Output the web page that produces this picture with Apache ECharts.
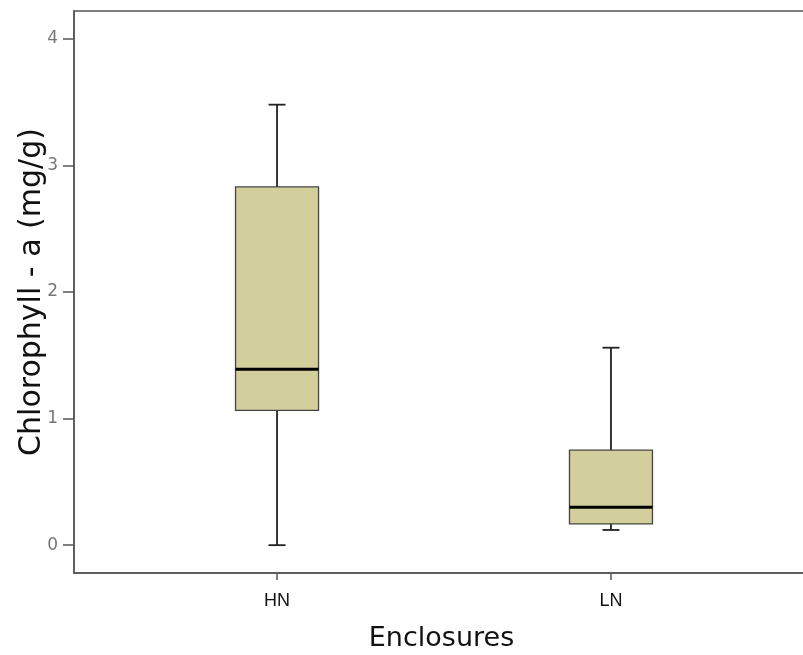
<!DOCTYPE html>
<html>
<head>
<meta charset="utf-8">
<title>chlorophyll_box</title>
<script src="https://cdn.jsdelivr.net/npm/echarts@6/dist/echarts.min.js"></script>
<style>
  html, body { margin: 0; padding: 0; background: #fff; }
  #main { width: 803px; height: 655px; }
</style>
</head>
<body>
<div id="main"></div>
<script>
// box plot summary per enclosure
var categories = ['HN', 'LN'];
var positions  = [1, 2];
var minV   = [0.00, 0.12];
var q1     = [1.065, 0.168];
var median = [1.39, 0.30];
var q3     = [2.83, 0.75];
var maxV   = [3.48, 1.56];
var yTicks = [0, 1, 2, 3, 4];

var rows = positions.map(function (p, i) {
  return [p, minV[i], q1[i], median[i], q3[i], maxV[i]];
});

var myChart = echarts.init(document.getElementById('main'));

function renderBox(params, api) {
  var x = api.value(0);
  var pMin = api.coord([x, api.value(1)]);
  var pQ1  = api.coord([x, api.value(2)]);
  var pMed = api.coord([x, api.value(3)]);
  var pQ3  = api.coord([x, api.value(4)]);
  var pMax = api.coord([x, api.value(5)]);
  var half = 41.5, cap = 8.5;
  var cx = pMed[0];
  var line = { stroke: '#222', lineWidth: 1.8 };
  return {
    type: 'group',
    children: [
      { type: 'line', shape: { x1: cx, y1: pQ3[1], x2: cx, y2: pMax[1] }, style: line },
      { type: 'line', shape: { x1: cx - cap, y1: pMax[1], x2: cx + cap, y2: pMax[1] }, style: line },
      { type: 'line', shape: { x1: cx, y1: pQ1[1], x2: cx, y2: pMin[1] }, style: line },
      { type: 'line', shape: { x1: cx - cap, y1: pMin[1], x2: cx + cap, y2: pMin[1] }, style: line },
      { type: 'rect', shape: { x: cx - half, y: pQ3[1], width: half * 2, height: pQ1[1] - pQ3[1] },
        style: { fill: '#d3cf9c', stroke: '#444', lineWidth: 1.3 } },
      { type: 'line', shape: { x1: cx - half, y1: pMed[1], x2: cx + half, y2: pMed[1] },
        style: { stroke: '#000', lineWidth: 3 } }
    ]
  };
}

var option = {
  animation: false,
  grid: {
    left: 74, right: -6, top: 11, bottom: 82,
    outerBoundsMode: 'none',
    containLabel: false,
    show: true, borderColor: '#555', borderWidth: 1.5, backgroundColor: '#fff'
  },
  xAxis: {
    type: 'value',
    min: 0.392,
    max: 2.593,
    name: 'Enclosures',
    nameLocation: 'middle',
    nameGap: 52,
    nameMoveOverlap: false,
    nameTextStyle: { fontFamily: 'DejaVu Sans', fontSize: 27, color: '#111' },
    splitLine: { show: false },
    axisLine: { show: true, onZero: false, lineStyle: { color: '#555', width: 1.5 } },
    axisTick: { show: true, length: 7, customValues: positions, lineStyle: { color: '#555', width: 1.5 } },
    axisLabel: {
      customValues: positions,
      margin: 19,
      fontFamily: 'Liberation Sans',
      fontSize: 18,
      color: '#111',
      formatter: function (v) { return categories[positions.indexOf(v)]; }
    }
  },
  yAxis: {
    type: 'value',
    min: -0.22,
    max: 4.22,
    name: 'Chlorophyll - a (mg/g)',
    nameLocation: 'middle',
    nameGap: 27,
    nameMoveOverlap: false,
    nameTextStyle: { fontFamily: 'DejaVu Sans', fontSize: 30, color: '#111' },
    splitLine: { show: false },
    axisLine: { show: true, onZero: false, lineStyle: { color: '#555', width: 1.5 } },
    axisTick: { show: true, length: 11, customValues: yTicks, lineStyle: { color: '#555', width: 1.5 } },
    axisLabel: {
      customValues: yTicks,
      margin: 16,
      padding: [4, 0, 0, 0],
      fontFamily: 'DejaVu Sans',
      fontSize: 17,
      color: '#777'
    }
  },
  series: [{
    type: 'custom',
    renderItem: renderBox,
    encode: { x: 0, y: [1, 2, 3, 4, 5] },
    data: rows
  }]
};
myChart.setOption(option);
</script>
</body>
</html>
